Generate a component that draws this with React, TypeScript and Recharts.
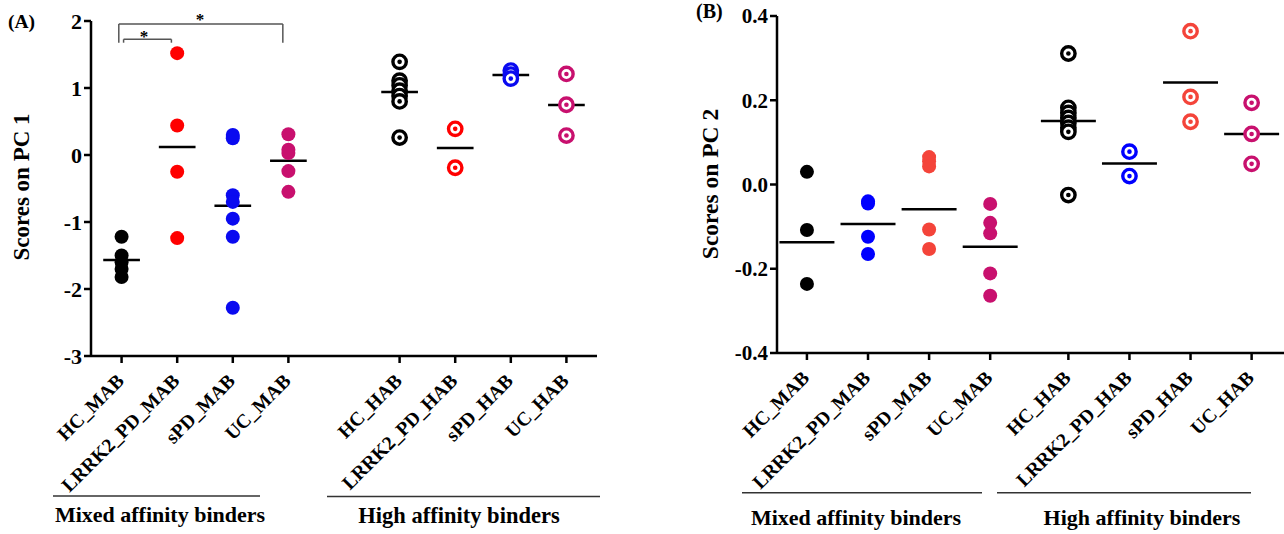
import React from "react";
import { ReferenceLine, Scatter, ScatterChart, XAxis, YAxis } from "recharts";

// group names, in axis order (4 mixed-affinity, then 4 high-affinity binders)
const groups = ["HC_MAB", "LRRK2_PD_MAB", "sPD_MAB", "UC_MAB", "HC_HAB", "LRRK2_PD_HAB", "sPD_HAB", "UC_HAB"];

// panel A: scores on PC 1
const pc1Scores = [
  [-1.22, -1.5, -1.6, -1.7, -1.82],
  [1.52, 0.44, -0.25, -1.24],
  [0.3, 0.25, -0.6, -0.7, -0.95, -1.22, -2.28],
  [0.31, 0.08, 0.03, -0.24, -0.55],
  [1.39, 1.11, 1.04, 0.96, 0.88, 0.8, 0.26],
  [0.39, -0.19],
  [1.26, 1.2, 1.14],
  [1.21, 0.75, 0.29],
];
const pc1Means = [-1.567, 0.119, -0.757, -0.085, 0.94, 0.104, 1.194, 0.746];
const pc1Ticks = [-3, -2, -1, 0, 1, 2];
const pc1Colors = ["#000000", "#FF0000", "#0A0AF0", "#C8106E"];
// significance brackets: [x1, x2, top, foot]
const pc1Brackets = [
  [-0.05, 2.9, 1.955, 1.676],
  [0.036, 0.896, 1.727, 1.676],
];

// panel B: scores on PC 2
const pc2Scores = [
  [0.03, -0.108, -0.236],
  [-0.04, -0.045, -0.124, -0.165],
  [0.065, 0.055, 0.043, -0.107, -0.153],
  [-0.046, -0.091, -0.116, -0.211, -0.264],
  [0.311, 0.182, 0.17, 0.158, 0.146, 0.135, 0.125, -0.025],
  [0.078, 0.02],
  [0.364, 0.208, 0.149],
  [0.194, 0.12, 0.049],
];
const pc2Means = [-0.137, -0.094, -0.059, -0.148, 0.151, 0.05, 0.242, 0.12];
const pc2Ticks = [-0.4, -0.2, 0, 0.2, 0.4];
const pc2Colors = ["#000000", "#0000FF", "#F4443A", "#C8106E"];

const FONT = '"Liberation Serif", "Times New Roman", serif';

const filledDot = (color: string) => (p: any) => <circle cx={p.cx} cy={p.cy} r={7} fill={color} />;
const ringDot = (color: string) => (p: any) => (
  <g>
    <circle cx={p.cx} cy={p.cy} r={6.7} fill="#fff" stroke={color} strokeWidth={3.4} />
    <circle cx={p.cx} cy={p.cy} r={2.3} fill={color} />
  </g>
);

function makeTick(positions: number[]) {
  return (props: any) => {
    const { x, y, payload } = props;
    const i = positions.findIndex((v) => Math.abs(v - payload.value) < 1e-6);
    const px = x + 3.5;
    const py = y + 19;
    return (
      <text x={px} y={py} transform={`rotate(-45 ${px} ${py})`} textAnchor="end" fontFamily={FONT} fontWeight="bold" fontSize={19.5} fill="#000">
        {groups[i]}
      </text>
    );
  };
}

interface PanelProps {
  scores: number[][];
  means: number[];
  colors: string[];
  yTicks: number[];
  yDomain: [number, number];
  xDomain: [number, number];
  gap: number;
  halfWidth: number;
  width: number;
  plot: { left: number; top: number; bottom: number; right: number };
  yFont: number;
  yFormat: (v: number) => string;
  brackets?: number[][];
}

function Panel(props: PanelProps) {
  const { scores, means, colors, plot, gap } = props;
  const positions = groups.map((_, i) => i + (i >= 4 ? gap : 0));
  const yW = 80;
  const xH = 40;
  return (
    <ScatterChart
      width={props.width}
      height={534}
      margin={{ top: plot.top, right: plot.right, left: plot.left - yW, bottom: 534 - plot.bottom - xH }}
    >
      <XAxis
        type="number"
        dataKey="x"
        domain={props.xDomain}
        ticks={positions}
        allowDataOverflow
        height={xH}
        tickSize={7}
        tickMargin={0}
        axisLine={{ stroke: "#000", strokeWidth: 2.5 }}
        tickLine={{ stroke: "#000", strokeWidth: 2.5 }}
        tick={makeTick(positions)}
      />
      <YAxis
        type="number"
        dataKey="y"
        domain={props.yDomain}
        ticks={props.yTicks}
        allowDataOverflow
        width={yW}
        tickSize={7}
        tickMargin={2}
        tickFormatter={props.yFormat}
        axisLine={{ stroke: "#000", strokeWidth: 2.5 }}
        tickLine={{ stroke: "#000", strokeWidth: 2.5 }}
        tick={{ fill: "#000", fontFamily: FONT, fontWeight: "bold", fontSize: props.yFont }}
      />
      {scores.map((vals, i) => (
        <Scatter
          key={groups[i]}
          data={vals.map((v) => ({ x: positions[i], y: v }))}
          shape={i < 4 ? filledDot(colors[i % 4]) : ringDot(colors[i % 4])}
          isAnimationActive={false}
        />
      ))}
      {means.map((m, i) => (
        <ReferenceLine
          key={"m" + i}
          segment={[
            { x: positions[i] - props.halfWidth, y: m },
            { x: positions[i] + props.halfWidth, y: m },
          ]}
          stroke="#000"
          strokeWidth={2.5}
        />
      ))}
      {(props.brackets || []).flatMap(([x1, x2, top, foot], i) => [
        <ReferenceLine key={"bt" + i} segment={[{ x: x1, y: top }, { x: x2, y: top }]} stroke="#555" strokeWidth={1.5} ifOverflow="visible" />,
        <ReferenceLine key={"bl" + i} segment={[{ x: x1, y: top }, { x: x1, y: foot }]} stroke="#555" strokeWidth={1.5} ifOverflow="visible" />,
        <ReferenceLine key={"br" + i} segment={[{ x: x2, y: top }, { x: x2, y: foot }]} stroke="#555" strokeWidth={1.5} ifOverflow="visible" />,
      ])}
    </ScatterChart>
  );
}

const textStyle = { fontFamily: FONT, fontWeight: "bold" as const, fill: "#000" };

export default function App() {
  return (
    <div style={{ position: "absolute", left: 0, top: 0, width: 1284, height: 534, background: "#fff", overflow: "hidden" }}>
      <div style={{ position: "absolute", left: 0, top: 0 }}>
        <Panel
          scores={pc1Scores}
          means={pc1Means}
          colors={pc1Colors}
          yTicks={pc1Ticks}
          yDomain={[-3, 2]}
          xDomain={[-0.55, 8.55]}
          gap={1}
          halfWidth={0.33}
          width={620}
          plot={{ left: 91, top: 21, bottom: 356, right: 23 }}
          yFont={22}
          yFormat={(v) => String(v)}
          brackets={pc1Brackets}
        />
      </div>
      <div style={{ position: "absolute", left: 640, top: 0 }}>
        <Panel
          scores={pc2Scores}
          means={pc2Means}
          colors={pc2Colors}
          yTicks={pc2Ticks}
          yDomain={[-0.4, 0.4]}
          xDomain={[-0.49, 7.81]}
          gap={0.28}
          halfWidth={0.45}
          width={644}
          plot={{ left: 137, top: 16, bottom: 353, right: 0 }}
          yFont={21}
          yFormat={(v) => v.toFixed(1)}
        />
      </div>
      <svg width={1284} height={534} style={{ position: "absolute", left: 0, top: 0, pointerEvents: "none" }}>
        <text x={8} y={28} fontSize={19.5} {...textStyle}>(A)</text>
        <text x={696} y={18} fontSize={20} {...textStyle}>(B)</text>
        <text x={200} y={25} fontSize={17} textAnchor="middle" {...textStyle}>*</text>
        <text x={144} y={42} fontSize={17} textAnchor="middle" {...textStyle}>*</text>
        <text x={29} y={187} fontSize={23} textAnchor="middle" transform="rotate(-90 29 187)" {...textStyle}>Scores on PC 1</text>
        <text x={718} y={184} fontSize={23.5} textAnchor="middle" transform="rotate(-90 718 184)" {...textStyle}>Scores on PC 2</text>
        <line x1={53} x2={260} y1={496} y2={496} stroke="#333" strokeWidth={1.5} />
        <line x1={327} x2={600} y1={496.5} y2={496.5} stroke="#333" strokeWidth={1.5} />
        <line x1={742} x2={982} y1={492.7} y2={492.7} stroke="#333" strokeWidth={1.5} />
        <line x1={997} x2={1251} y1={492.7} y2={492.7} stroke="#333" strokeWidth={1.5} />
        <text x={160} y={522} fontSize={22} textAnchor="middle" {...textStyle}>Mixed affinity binders</text>
        <text x={459} y={523} fontSize={22.5} textAnchor="middle" {...textStyle}>High affinity binders</text>
        <text x={856} y={525} fontSize={22} textAnchor="middle" {...textStyle}>Mixed affinity binders</text>
        <text x={1142} y={525} fontSize={22} textAnchor="middle" {...textStyle}>High affinity binders</text>
      </svg>
    </div>
  );
}
